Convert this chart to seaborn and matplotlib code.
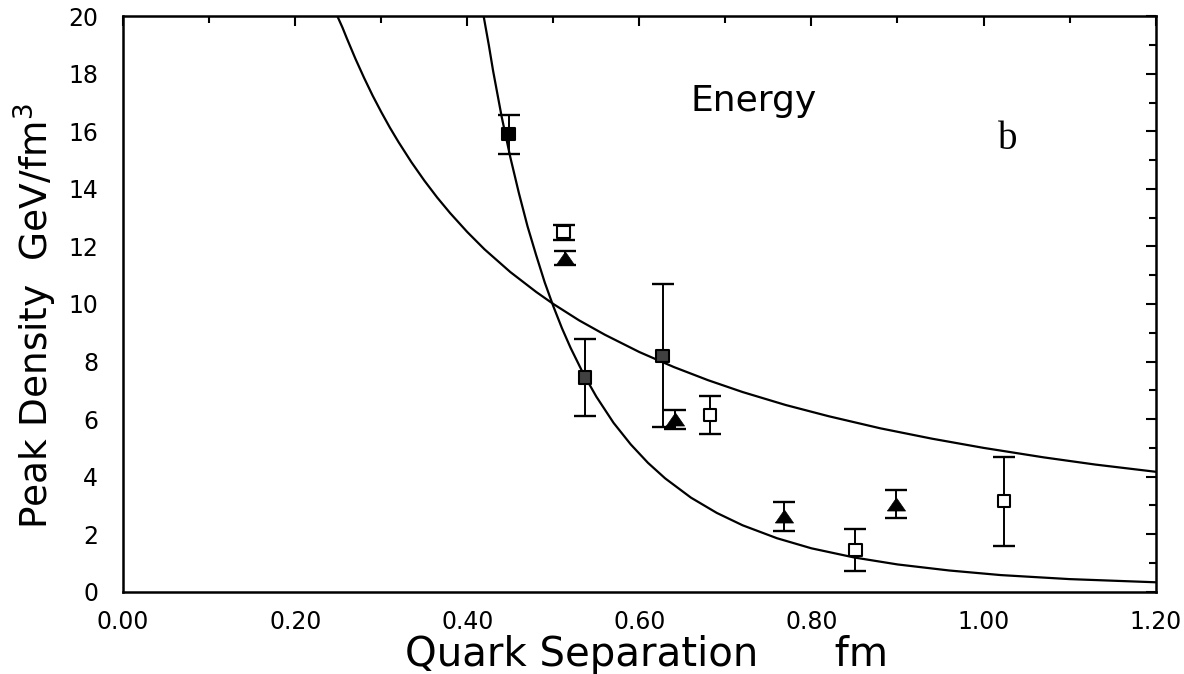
import numpy as np
import matplotlib
matplotlib.use("Agg")
import matplotlib.pyplot as plt
import seaborn as sns

# model curves
curve_a_x = [0.249, 0.255, 0.26, 0.27, 0.28, 0.29, 0.30, 0.31, 0.32, 0.335, 0.35, 0.365,
             0.38, 0.40, 0.42, 0.45, 0.48, 0.50, 0.53, 0.56, 0.60, 0.64, 0.68, 0.72,
             0.77, 0.82, 0.88, 0.94, 1.00, 1.07, 1.13, 1.20]
curve_a_y = [20.0, 19.6, 19.23, 18.52, 17.86, 17.24, 16.67, 16.13, 15.63, 14.93, 14.29, 13.7,
             13.16, 12.5, 11.9, 11.11, 10.42, 10.0, 9.43, 8.93, 8.33, 7.81, 7.35, 6.94,
             6.49, 6.1, 5.68, 5.32, 5.0, 4.67, 4.42, 4.17]

curve_b_x = [0.419, 0.425, 0.43, 0.435, 0.44, 0.445, 0.45, 0.46, 0.47, 0.48, 0.49, 0.50,
             0.51, 0.52, 0.535, 0.55, 0.57, 0.59, 0.61, 0.63, 0.66, 0.69, 0.72, 0.76,
             0.80, 0.85, 0.90, 0.96, 1.02, 1.10, 1.20]
curve_b_y = [20.0, 19.0, 18.1, 17.3, 16.5, 15.8, 15.1, 13.85, 12.7, 11.7, 10.75, 9.92,
             9.16, 8.48, 7.57, 6.78, 5.87, 5.12, 4.48, 3.94, 3.27, 2.74, 2.31, 1.86,
             1.51, 1.19, 0.95, 0.74, 0.58, 0.44, 0.33]

# lattice points: open squares
sq_x = [0.448, 0.512, 0.537, 0.627, 0.682, 0.851, 1.024]
sq_y = [15.9, 12.5, 7.45, 8.2, 6.15, 1.45, 3.15]
sq_err = [0.68, 0.26, 1.33, 2.48, 0.66, 0.73, 1.55]
sq_face = ["black", "white", "0.25", "0.25", "white", "white", "white"]

# filled triangles
tri_x = [0.513, 0.641, 0.768, 0.898]
tri_y = [11.6, 6.0, 2.62, 3.05]
tri_err = [0.23, 0.33, 0.5, 0.5]

x_ticks = [0.0, 0.2, 0.4, 0.6, 0.8, 1.0, 1.2]
y_ticks = [0, 2, 4, 6, 8, 10, 12, 14, 16, 18, 20]

sns.set_theme(style="white")
plt.rcParams["font.family"] = ["DejaVu Sans"]
plt.rcParams["mathtext.fontset"] = "dejavusans"
plt.rcParams["text.color"] = "black"
plt.rcParams["axes.labelcolor"] = "black"

fig = plt.figure(figsize=(11.84, 6.74), dpi=100)
ax = fig.add_axes([0.104, 0.122, 0.872, 0.854])

sns.lineplot(x=curve_a_x, y=curve_a_y, color="black", linewidth=1.6, sort=False,
             estimator=None, ax=ax)
sns.lineplot(x=curve_b_x, y=curve_b_y, color="black", linewidth=1.6, sort=False,
             estimator=None, ax=ax)

ax.errorbar(sq_x, sq_y, yerr=sq_err, fmt="none", ecolor="black", elinewidth=1.4,
            capsize=8, capthick=1.7, zorder=3)
ax.errorbar(tri_x, tri_y, yerr=tri_err, fmt="none", ecolor="black", elinewidth=1.4,
            capsize=8, capthick=1.7, zorder=3)

ax.scatter(sq_x, sq_y, marker="s", s=80, facecolors=sq_face, edgecolors="black",
           linewidths=1.5, zorder=4)
tri_marker = [(-1, -0.72), (1, -0.72), (0, 0.72), (-1, -0.72)]
sns.scatterplot(x=tri_x, y=tri_y, marker=tri_marker, s=170, color="black",
                edgecolor="black", linewidth=0.5, zorder=4, ax=ax)

ax.set_xlim(0, 1.2)
ax.set_ylim(0, 20)
ax.set_xticks(x_ticks)
ax.set_xticklabels([f"{t:.2f}" for t in x_ticks])
ax.set_xticks(np.arange(0.1, 1.2, 0.2), minor=True)
ax.set_yticks(y_ticks)
ax.set_yticks(np.arange(1, 20, 2), minor=True)

ax.tick_params(which="both", direction="in", top=True, right=True, color="black",
               width=1.5, labelsize=17, labelcolor="black")
ax.tick_params(which="major", length=7)
ax.tick_params(which="minor", length=5)
ax.tick_params(axis="x", which="major", pad=13)
ax.tick_params(axis="y", which="major", pad=18)

for sp in ax.spines.values():
    sp.set_visible(True)
    sp.set_color("black")
    sp.set_linewidth(1.8)

ax.set_xlabel("Quark Separation      fm", fontsize=29)
ax.xaxis.set_label_coords(0.507, -0.075)
ax.xaxis.label.set_va("top")
ax.set_ylabel("Peak Density  GeV/fm$^{3}$", fontsize=27)
ax.yaxis.set_label_coords(-0.062, 0.479)

ax.text(0.66, 16.7, "Energy", fontsize=26, ha="left", va="baseline")
ax.text(1.028, 15.4, "b", fontsize=28, ha="center", va="baseline",
        family=["Liberation Serif", "DejaVu Serif"])

fig.savefig("out.png", dpi=100, facecolor="white")
